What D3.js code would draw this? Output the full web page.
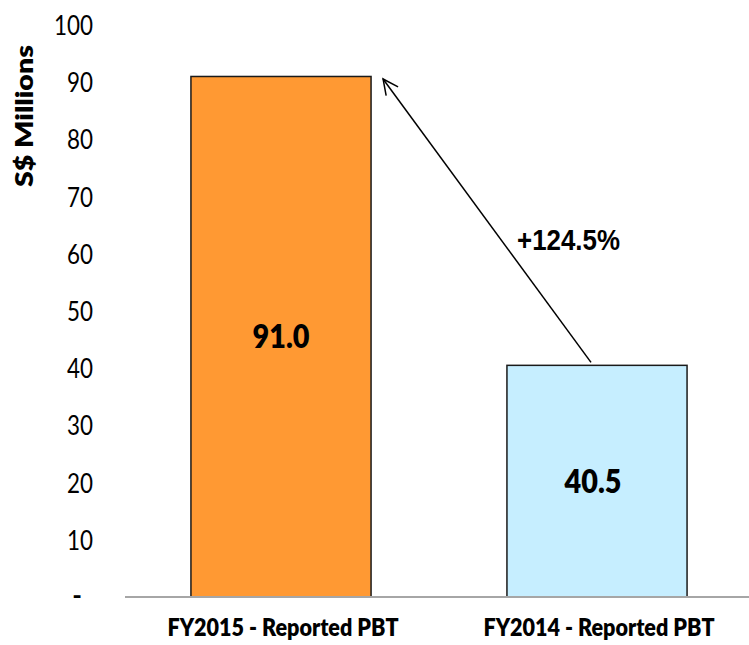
<!DOCTYPE html>
<html>
<head>
<meta charset="utf-8">
<script src="https://cdn.jsdelivr.net/npm/d3@7"></script>
<style>
  html, body { margin: 0; padding: 0; background: #fff; }
  svg { display: block; }
</style>
</head>
<body>
<svg id="chart" width="749" height="645"></svg>
<script>
// Profit before tax, S$ millions
const categories = ["FY2015 - Reported PBT", "FY2014 - Reported PBT"];
const values = [91.0, 40.5];
const valueLabels = ["91.0", "40.5"];
const barColors = ["#FF9933", "#C6EEFF"];
const yTicks = [0, 10, 20, 30, 40, 50, 60, 70, 80, 90, 100];
const growthLabel = "+124.5%";
const yTitle = "S$ Millions";

const svg = d3.select("#chart");
const W = 749, H = 645;

const y = d3.scaleLinear().domain([0, 100]).range([597, 25]);
const x = d3.scaleBand()
  .domain(categories)
  .range([123, 755])
  .paddingInner(0.43)
  .paddingOuter(0.215);
const bw = x.bandwidth();

// squeeze text horizontally to a target width
function fitWidth(sel, w) {
  sel.attr("textLength", w).attr("lengthAdjust", "spacingAndGlyphs");
}

// y tick labels (no axis line)
const yAxis = d3.axisLeft(y)
  .tickValues(yTicks)
  .tickSize(0)
  .tickPadding(0)
  .tickFormat(d => d === 0 ? "-" : String(d));
const gy = svg.append("g")
  .attr("transform", "translate(93,0)")
  .call(yAxis);
gy.select(".domain").remove();
gy.selectAll(".tick text")
  .attr("font-family", "Lato, sans-serif")
  .attr("font-size", 26)
  .attr("fill", "#000")
  .attr("dy", 9.5)
  .each(function(d) {
    const t = d3.select(this);
    if (d === 0) {
      t.attr("x", -11).attr("dy", 7).attr("font-weight", "bold");
    } else {
      fitWidth(t, String(d).length * 13);
    }
  });

// y axis title
svg.append("text")
  .attr("transform", "translate(33,116) rotate(-90)")
  .attr("text-anchor", "middle")
  .attr("font-family", "Lato, sans-serif")
  .attr("font-weight", 800)
  .attr("font-size", 23.5)
  .attr("fill", "#000")
  .text(yTitle)
  .call(fitWidth, 142);

// bars
svg.selectAll("rect.bar")
  .data(categories)
  .join("rect")
  .attr("class", "bar")
  .attr("x", d => x(d))
  .attr("y", (d, i) => y(values[i]))
  .attr("width", bw)
  .attr("height", (d, i) => y(0) - y(values[i]))
  .attr("fill", (d, i) => barColors[i])
  .attr("stroke", "#1a1a1a")
  .attr("stroke-width", 1.5);

// baseline
svg.append("line")
  .attr("x1", 125).attr("x2", W)
  .attr("y1", y(0)).attr("y2", y(0))
  .attr("stroke", "#a6a6a6")
  .attr("stroke-width", 2);

// value labels inside bars
svg.selectAll("text.val")
  .data(categories)
  .join("text")
  .attr("class", "val")
  .attr("x", (d, i) => x(d) + bw / 2 - (i === 1 ? 4 : 0))
  .attr("y", (d, i) => (y(values[i]) + y(0)) / 2 + 11.5)
  .attr("text-anchor", "middle")
  .attr("font-family", "Lato, sans-serif")
  .attr("font-weight", 800)
  .attr("font-size", 32)
  .attr("fill", "#000")
  .text((d, i) => valueLabels[i])
  .each(function() { fitWidth(d3.select(this), 57); });

// category labels
svg.selectAll("text.cat")
  .data(categories)
  .join("text")
  .attr("class", "cat")
  .attr("x", d => x(d) + bw / 2 + 2)
  .attr("y", 636)
  .attr("text-anchor", "middle")
  .attr("font-family", "Lato, sans-serif")
  .attr("font-weight", 800)
  .attr("font-size", 24)
  .attr("fill", "#000")
  .text(d => d)
  .each(function() { fitWidth(d3.select(this), 231); });

// growth arrow from FY2014 bar up to FY2015 bar
const x0 = x(categories[1]) + bw / 2 - 6, y0 = y(values[1]) - 3;
const x1 = x(categories[0]) + bw + 12, y1 = y(values[0]) + 2.5;
svg.append("line")
  .attr("x1", x0).attr("y1", y0)
  .attr("x2", x1).attr("y2", y1)
  .attr("stroke", "#000")
  .attr("stroke-width", 1.5);
const ang = Math.atan2(y0 - y1, x0 - x1);
const headLen = 17, spread = 0.45;
const head = [
  [x1 + headLen * Math.cos(ang - spread), y1 + headLen * Math.sin(ang - spread)],
  [x1, y1],
  [x1 + headLen * Math.cos(ang + spread), y1 + headLen * Math.sin(ang + spread)]
];
svg.append("path")
  .attr("d", d3.line()(head))
  .attr("fill", "none")
  .attr("stroke", "#000")
  .attr("stroke-width", 1.5);

svg.append("text")
  .attr("x", 568.5)
  .attr("y", 250)
  .attr("text-anchor", "middle")
  .attr("font-family", "'Liberation Sans', Arial, sans-serif")
  .attr("font-weight", "bold")
  .attr("font-size", 30)
  .attr("fill", "#000")
  .text(growthLabel)
  .call(fitWidth, 103);
</script>
</body>
</html>
